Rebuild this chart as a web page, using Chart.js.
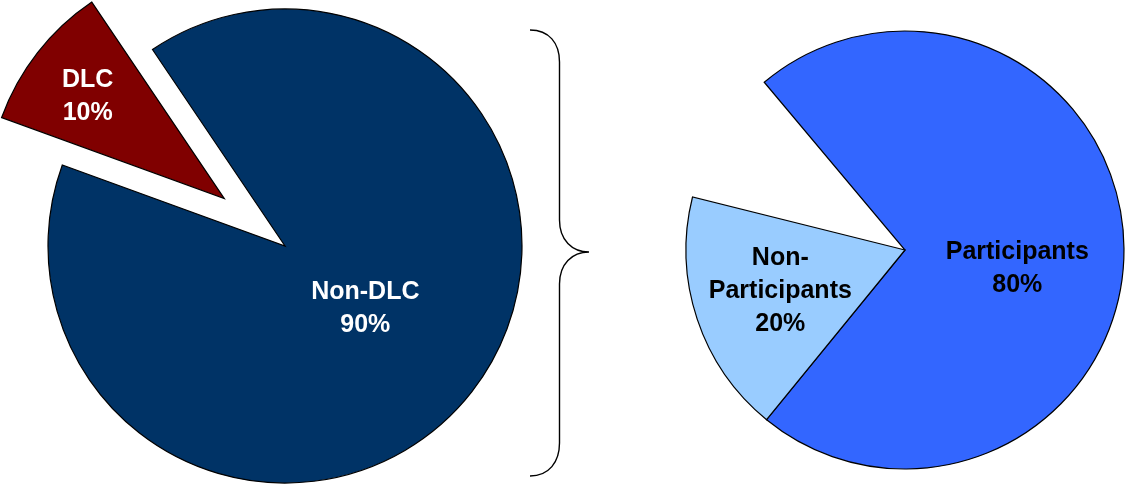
<!DOCTYPE html>
<html>
<head>
<meta charset="utf-8">
<script src="https://cdn.jsdelivr.net/npm/chart.js@4.4.1/dist/chart.umd.min.js"></script>
<style>
  html, body { margin: 0; padding: 0; background: #ffffff; }
  #wrap { position: relative; width: 1125px; height: 484px; overflow: hidden; }
  #leftBox { position: absolute; left: 0; top: 0; width: 620px; height: 484px; }
  #rightBox { position: absolute; left: 620px; top: 0; width: 505px; height: 484px; }
</style>
</head>
<body>
<div id="wrap">
  <div id="leftBox"><canvas id="leftPie"></canvas></div>
  <div id="rightBox"><canvas id="rightPie"></canvas></div>
</div>
<script>
// Left pie: all customers
const leftCategories = ['Non-DLC', 'DLC'];
const leftValues = [90, 10];

// Right pie: the Non-DLC part split up, with the DLC part left empty
const rightCategories = ['Participants', 'Non-Participants'];
const rightShares = [80, 20];

const rightValues = [
    leftValues[0] * rightShares[0] / 100,
    leftValues[0] * rightShares[1] / 100,
    leftValues[1] // empty wedge
];

const labelFont = 'bold 25px "Liberation Sans", Arial, sans-serif';
const lineHeight = 33;

// moves a slice out along its bisector (like Excel's exploded point)
const explodePlugin = {
    id: 'explode',
    afterDatasetsUpdate(chart, args, opts) {
        const dist = opts.distance || [];
        chart.getDatasetMeta(0).data.forEach((arc, i) => {
            const d = dist[i] || 0;
            if (!d) return;
            const mid = (arc.startAngle + arc.endAngle) / 2;
            arc.x += Math.cos(mid) * d;
            arc.y += Math.sin(mid) * d;
        });
    }
};

// text inside the slices
const sliceLabels = {
    id: 'sliceLabels',
    afterDatasetsDraw(chart, args, opts) {
        const ctx = chart.ctx;
        const meta = chart.getDatasetMeta(0);
        ctx.save();
        ctx.font = labelFont;
        ctx.textAlign = 'center';
        ctx.textBaseline = 'middle';
        meta.data.forEach((arc, i) => {
            const lines = opts.lines[i];
            if (!lines) return;
            const place = opts.place[i];
            const mid = (arc.startAngle + arc.endAngle) / 2 + place.turn * Math.PI / 180;
            const r = arc.outerRadius * place.r;
            const cx = arc.x + Math.cos(mid) * r;
            const cy = arc.y + Math.sin(mid) * r;
            ctx.fillStyle = opts.colors[i];
            const top = cy - (lines.length - 1) * lineHeight / 2;
            lines.forEach((t, k) => ctx.fillText(t, cx, top + k * lineHeight));
        });
        ctx.restore();
    }
};

// curly brace between the pies
const bracePlugin = {
    id: 'brace',
    afterDraw(chart) {
        const ctx = chart.ctx;
        ctx.save();
        ctx.strokeStyle = '#000000';
        ctx.lineWidth = 1.4;
        ctx.beginPath();
        ctx.moveTo(530, 30);
        ctx.bezierCurveTo(549, 30, 559.5, 43, 559.5, 62);
        ctx.lineTo(559.5, 220);
        ctx.bezierCurveTo(559.5, 240, 572, 252, 589, 252);
        ctx.bezierCurveTo(572, 252, 559.5, 264, 559.5, 284);
        ctx.lineTo(559.5, 443);
        ctx.bezierCurveTo(559.5, 462, 549, 476, 530, 476);
        ctx.stroke();
        ctx.restore();
    }
};

const pct = v => v + '%';

new Chart(document.getElementById('leftPie'), {
    type: 'pie',
    data: {
        labels: leftCategories,
        datasets: [{
            data: leftValues,
            backgroundColor: ['#003366', '#800000'],
            borderColor: '#000000',
            borderWidth: 1.2,
            borderJoinStyle: 'miter'
        }]
    },
    options: {
        responsive: true,
        maintainAspectRatio: false,
        animation: false,
        events: [],
        rotation: -34,
        radius: 237,
        layout: { padding: { top: 8, right: 50, bottom: 0, left: 0 } },
        datasets: { pie: { clip: false } },
        plugins: {
            legend: { display: false },
            tooltip: { enabled: false },
            explode: { distance: [0, 77] },
            sliceLabels: {
                lines: leftCategories.map((c, i) => [c, pct(leftValues[i])]),
                place: [{ r: 0.43, turn: 0 }, { r: 0.72, turn: -1.2 }],
                colors: ['#ffffff', '#ffffff']
            }
        }
    },
    plugins: [explodePlugin, sliceLabels, bracePlugin]
});

new Chart(document.getElementById('rightPie'), {
    type: 'pie',
    data: {
        labels: rightCategories.concat(['']),
        datasets: [{
            data: rightValues,
            backgroundColor: ['#3366ff', '#99ccff', 'rgba(0,0,0,0)'],
            borderColor: ['#000000', '#000000', 'rgba(0,0,0,0)'],
            borderWidth: [1.2, 1.2, 0],
            borderJoinStyle: 'miter'
        }]
    },
    options: {
        responsive: true,
        maintainAspectRatio: false,
        animation: false,
        events: [],
        rotation: -40,
        radius: 219,
        layout: { padding: { top: 16, right: 0, bottom: 0, left: 65 } },
        plugins: {
            legend: { display: false },
            tooltip: { enabled: false },
            sliceLabels: {
                lines: [
                    [rightCategories[0], pct(rightShares[0])],
                    ['Non-', 'Participants', pct(rightShares[1])]
                ],
                place: [{ r: 0.52, turn: 10 }, { r: 0.6, turn: 0 }],
                colors: ['#000000', '#000000']
            }
        }
    },
    plugins: [sliceLabels]
});
</script>
</body>
</html>
